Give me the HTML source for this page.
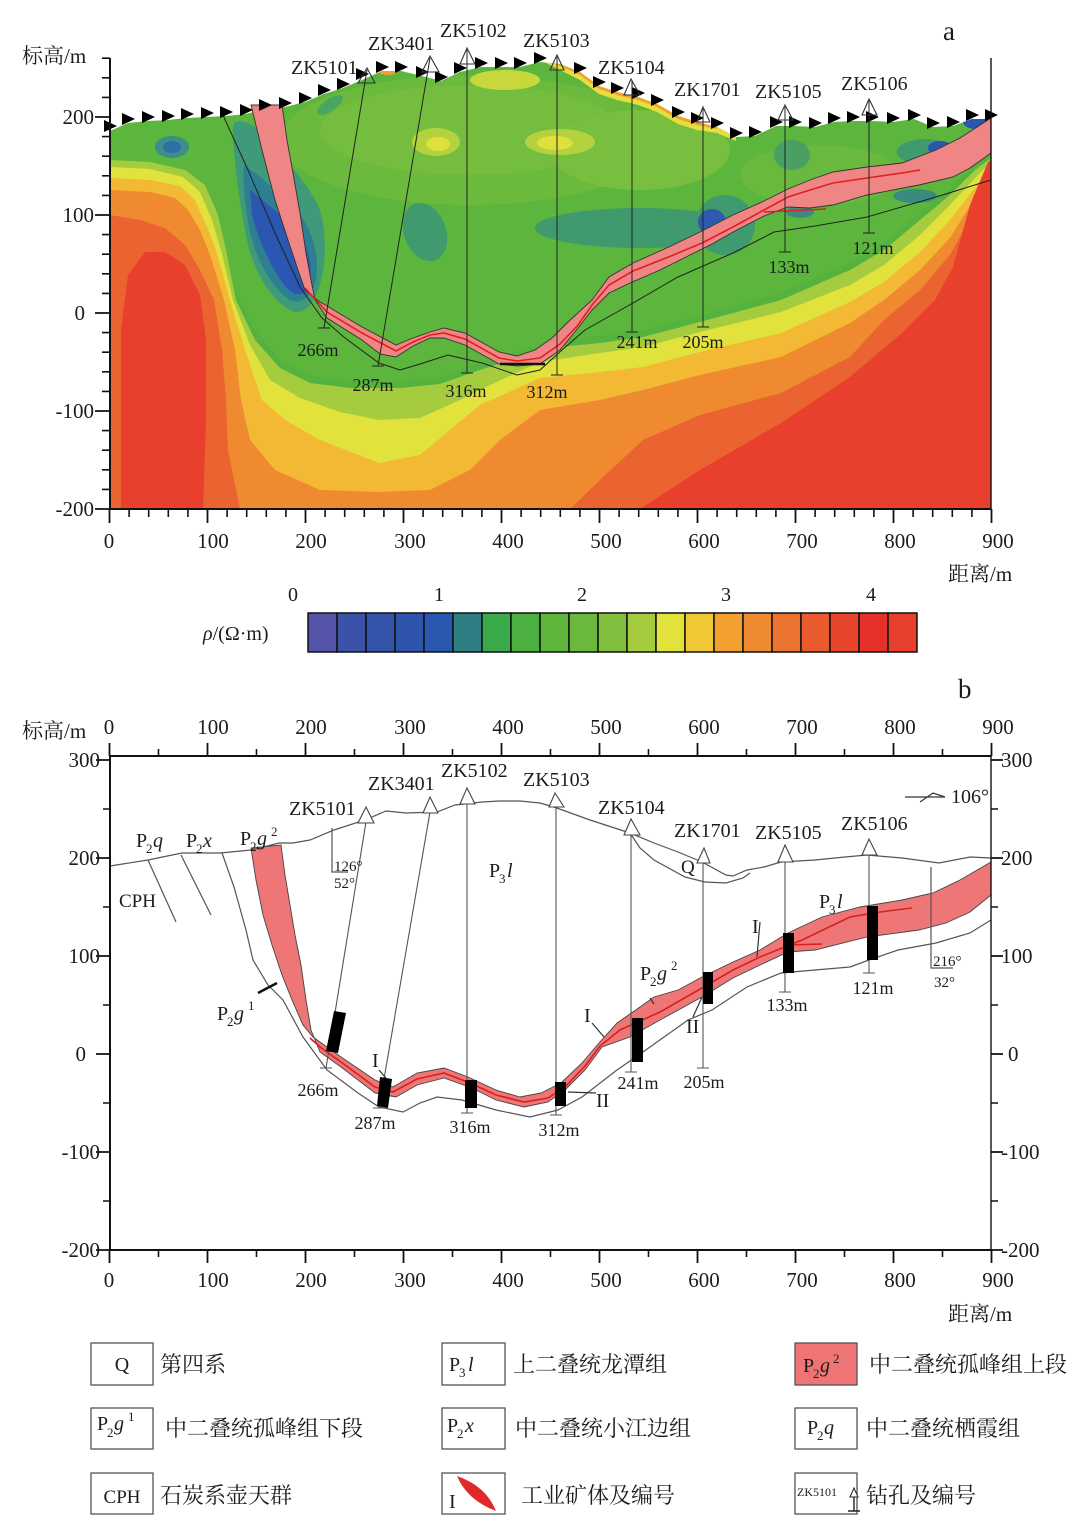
<!DOCTYPE html>
<html><head><meta charset="utf-8"><style>
html,body{margin:0;padding:0;background:#fff;}
svg{display:block;}
text{font-family:"Liberation Serif","Noto Serif CJK SC",serif;fill:#1c1c1c;}
</style></head><body>
<svg width="1080" height="1522" viewBox="0 0 1080 1522" xmlns="http://www.w3.org/2000/svg">
<rect width="1080" height="1522" fill="#fff"/>
<defs>
<clipPath id="surf"><path d="M110,131 L128,123 L148,121 L168,120 L187,118 L207,117 L226,116 L246,114 L265,109 L285,107 L305,102 L324,94 L343,88 L362,80 L382,71 L401,71 L422,76 L441,81 L460,72 L481,67 L501,67 L520,67 L540,62 L560,64 L580,72 L599,86 L617,92 L638,97 L657,104 L678,116 L697,122 L717,127 L736,137 L755,136 L776,126 L795,126 L815,127 L834,122 L853,121 L872,121 L893,122 L914,119 L933,127 L953,126 L972,119 L991,119 L991,509 L110,509 Z"/></clipPath>
</defs>

<!-- ================= PANEL A ================= -->
<g clip-path="url(#surf)">
<rect x="110" y="55" width="881" height="455" fill="#5cb53c"/>
<ellipse cx="470" cy="140" rx="190" ry="65" fill="#6cba3d"/>
<ellipse cx="470" cy="130" rx="150" ry="45" fill="#74bd3e"/>
<ellipse cx="640" cy="150" rx="90" ry="40" fill="#78bf3f"/>
<ellipse cx="820" cy="175" rx="80" ry="30" fill="#68b93e"/>
<ellipse cx="436" cy="142" rx="24" ry="14" fill="#b4d23e"/>
<ellipse cx="438" cy="144" rx="12" ry="7" fill="#e0e03c"/>
<ellipse cx="560" cy="142" rx="35" ry="13" fill="#b4d23e"/>
<ellipse cx="555" cy="143" rx="18" ry="7" fill="#dfe03c"/>
<ellipse cx="505" cy="80" rx="35" ry="10" fill="#c8d83c"/>
<path d="M540,60 L580,70 L599,84 L617,90 L638,95 L657,102 L678,114 L697,120 L717,125 L736,135 L736,141 L717,133 L697,130 L678,124 L657,112 L638,105 L617,100 L599,94 L580,80 L560,70 Z" fill="#e6de3c"/>
<path d="M545,60 L580,70 L599,84 L617,90 L638,95 L657,102 L678,114 L697,120 L717,125 L717,129 L697,125 L678,119 L657,107 L638,100 L617,95 L599,89 L580,75 L560,66 Z" fill="#f0a030"/>
<ellipse cx="388" cy="72" rx="9" ry="3" fill="#f0a030"/>
<path d="M236,290 L255,330 L280,360 L310,376 L350,381 L400,381 L440,377 L480,363 L520,350 L560,340 L600,336 L643,330 L700,315 L781,293 L850,263 L884,243 L920,213 L950,188 L991,150 L991,509 L110,509 Z" fill="#54b23e"/>

<path d="M110,160 L150,162 L185,170 L205,185 L218,215 L226,250 L236,300 L255,340 L280,368 L310,383 L350,388 L400,388 L440,384 L480,370 L520,357 L560,347 L600,343 L643,337 L700,322 L781,300 L850,270 L884,250 L920,220 L950,195 L975,170 L991,158 L991,509 L110,509 Z" fill="#a5cc3e"/>
<path d="M110,167 L150,169 L183,177 L200,192 L212,220 L221,250 L233,300 L250,345 L270,380 L300,398 L340,412 L379,420 L420,418 L460,400 L490,385 L540,362 L600,353 L643,347 L700,332 L781,312 L850,285 L884,265 L920,235 L950,205 L975,178 L991,162 L991,509 L110,509 Z" fill="#e2e23c"/>
<path d="M110,178 L150,180 L180,186 L195,200 L206,225 L216,250 L230,300 L245,350 L262,400 L285,420 L320,440 L379,463 L420,455 L450,430 L480,405 L540,378 L600,372 L643,367 L700,352 L781,333 L850,302 L884,282 L920,252 L950,220 L975,188 L991,166 L991,509 L110,509 Z" fill="#f3b834"/>
<path d="M110,190 L150,192 L175,198 L188,210 L200,230 L210,255 L224,300 L235,350 L241,400 L250,440 L275,470 L320,490 L379,492 L430,490 L470,470 L500,440 L540,410 L600,400 L643,390 L700,375 L781,357 L850,323 L884,300 L920,270 L950,238 L975,198 L991,170 L991,509 L110,509 Z" fill="#ef8a30"/>
<path d="M110,215 L140,220 L165,228 L185,245 L200,270 L214,300 L222,350 L226,400 L228,450 L240,509 L110,509 Z" fill="#ea6330"/>
<path d="M570,509 L600,480 L643,440 L700,415 L781,393 L850,357 L884,320 L920,290 L950,255 L975,210 L991,175 L991,509 Z" fill="#ea6330"/>
<path d="M121,509 L121,330 L128,275 L145,252 L165,252 L185,265 L200,295 L206,340 L206,420 L203,509 Z" fill="#e8402c"/>
<path d="M640,509 L700,470 L781,423 L850,377 L902,333 L935,300 L953,267 L970,205 L988,162 L991,160 L991,509 Z" fill="#e8402c"/>

<ellipse cx="172" cy="147" rx="17" ry="11" fill="#3a8f88"/>
<ellipse cx="172" cy="147" rx="9" ry="6" fill="#2f6fa8"/>
<path d="M234,123 C242,118 258,125 268,140 C285,160 305,180 318,205 C328,230 326,270 318,290 C312,308 300,316 290,310 C270,298 256,275 248,245 C242,215 236,180 234,150 C233,138 232,128 234,123 Z" fill="#3e9a78"/>
<path d="M244,165 C256,172 275,190 295,208 C312,228 320,255 316,280 C312,298 300,305 290,300 C272,288 260,265 252,240 C246,215 242,185 244,165 Z" fill="#2f7f92"/>
<path d="M250,190 C262,200 282,215 298,232 C310,250 314,272 308,290 C300,298 290,294 282,282 C268,262 258,238 252,215 Z" fill="#2b57b2"/>
<ellipse cx="330" cy="105" rx="15" ry="6" fill="#49a560" transform="rotate(-35 330 105)"/>
<ellipse cx="425" cy="232" rx="21" ry="30" fill="#3f9a6e" transform="rotate(-20 425 232)"/>
<ellipse cx="640" cy="228" rx="105" ry="20" fill="#3f9a6e"/>
<ellipse cx="725" cy="225" rx="30" ry="30" fill="#3f9a6e"/>
<ellipse cx="712" cy="222" rx="14" ry="13" fill="#2e5ab0"/>
<ellipse cx="792" cy="155" rx="18" ry="15" fill="#4aa064"/>
<ellipse cx="925" cy="152" rx="28" ry="13" fill="#3f9a6e"/>
<ellipse cx="940" cy="148" rx="12" ry="7" fill="#2c55b0"/>
<ellipse cx="976" cy="122" rx="13" ry="7" fill="#2c55b0"/>
<ellipse cx="915" cy="196" rx="22" ry="7" fill="#3a8a80"/>
<ellipse cx="800" cy="212" rx="14" ry="6" fill="#3a8a80"/>
</g>

<!-- ore body a -->
<path d="M251,105 L262,150 L275,200 L288,240 L298,270 L305,290 L320,302 L327,306 L362,327 L396,345 L413,338 L430,332 L444,328 L465,333 L499,352 L517,356 L535,350 L552,338 L568,322 L592,300 L609,277 L633,263 L671,246 L702,231 L733,215 L764,201 L788,189 L810,180 L833,172 L867,167 L902,163 L936,150 L960,138 L991,118 L991,153 L970,168 L953,177 L919,185 L867,195 L833,205 L810,208 L788,207 L764,216 L733,232 L712,244 L690,255 L660,270 L630,283 L609,293 L592,310 L578,328 L560,350 L540,364 L517,366 L499,364 L465,345 L444,338 L430,338 L413,346 L396,357 L380,354 L362,340 L327,318 L315,300 L311,280 L306,253 L300,213 L293,173 L287,140 L282,105 Z" fill="#f08585" stroke="#333" stroke-width="0.9"/>
<path d="M305,288 L327,312 L362,333 L396,351 L413,342 L430,335 L444,333 L465,339 L499,358 L517,361 L540,358 L560,344 L578,325 L592,305 L609,285 L633,271 L671,256 L702,243 L733,227 L764,210 L788,197 L810,190 L833,183 L867,178 L902,173 L920,170" fill="none" stroke="#e02020" stroke-width="1.6"/>
<path d="M764,212 L826,209" fill="none" stroke="#e02020" stroke-width="1.4"/>
<path d="M500,364 L545,364" stroke="#111" stroke-width="2.5"/>
<path d="M222,113 L248,170 L275,233 L300,287 L322,318 L345,338 L379,363 L400,370 L420,364 L448,355 L482,363 L517,375 L540,370 L562,350 L585,330 L626,307 L678,277 L733,253 L774,232 L815,226 L867,217 L936,197 L991,180" fill="none" stroke="#222" stroke-width="1"/>

<!-- surface triangles -->
<path fill="#000" d="M104,120L117,126L104,132Z M122,113L135,119L122,125Z M142,111L155,117L142,123Z M162,110L175,116L162,122Z M181,108L194,114L181,120Z M201,107L214,113L201,119Z M220,106L233,112L220,118Z M240,104L253,110L240,116Z M259,99L272,105L259,111Z M279,97L292,103L279,109Z M299,92L312,98L299,104Z M318,84L331,90L318,96Z M337,78L350,84L337,90Z M356,68L369,74L356,80Z M376,61L389,67L376,73Z M395,61L408,67L395,73Z M416,66L429,72L416,78Z M435,71L448,77L435,83Z M454,62L467,68L454,74Z M475,57L488,63L475,69Z M495,57L508,63L495,69Z M514,57L527,63L514,69Z M534,52L547,58L534,64Z M574,62L587,68L574,74Z M593,76L606,82L593,88Z M611,82L624,88L611,94Z M632,87L645,93L632,99Z M651,94L664,100L651,106Z M672,106L685,112L672,118Z M691,112L704,118L691,124Z M711,117L724,123L711,129Z M730,127L743,133L730,139Z M749,126L762,132L749,138Z M770,116L783,122L770,128Z M789,116L802,122L789,128Z M809,117L822,123L809,129Z M828,112L841,118L828,124Z M847,111L860,117L847,123Z M866,111L879,117L866,123Z M887,112L900,118L887,124Z M908,109L921,115L908,121Z M927,117L940,123L927,129Z M947,116L960,122L947,128Z M966,109L979,115L966,121Z M985,109L998,115L985,121Z"/>

<!-- boreholes a -->
<g fill="none" stroke="#222" stroke-width="1">
<path d="M367,70 L324,328 M318,328H330"/>
<path d="M430,58 L378,366 M372,366H384"/>
<path d="M467,50 V373 M461,373H473"/>
<path d="M557,57 V375 M551,375H563"/>
<path d="M632,80 V332 M626,332H638"/>
<path d="M703,109 V327 M697,327H709"/>
<path d="M785,107 V252 M779,252H791"/>
<path d="M869,100 V233 M863,233H875"/>
</g>
<g fill="none" stroke="#333" stroke-width="1.1">
<path d="M358,83 L367,68 L375,83 Z"/>
<path d="M422,72 L430,56 L439,72 Z"/>
<path d="M460,64 L467,48 L475,64 Z"/>
<path d="M550,70 L557,55 L564,70 Z"/>
<path d="M624,95 L631,79 L640,95 Z"/>
<path d="M697,122 L703,107 L710,122 Z"/>
<path d="M778,120 L785,105 L793,120 Z"/>
<path d="M862,115 L869,99 L877,115 Z"/>
</g>
<g font-size="20">
<text x="291" y="74">ZK5101</text>
<text x="368" y="50">ZK3401</text>
<text x="440" y="37">ZK5102</text>
<text x="523" y="47">ZK5103</text>
<text x="598" y="74">ZK5104</text>
<text x="674" y="96">ZK1701</text>
<text x="755" y="98">ZK5105</text>
<text x="841" y="90">ZK5106</text>
</g>
<g font-size="18" text-anchor="middle">
<text x="318" y="356">266m</text>
<text x="373" y="391">287m</text>
<text x="466" y="397">316m</text>
<text x="547" y="398">312m</text>
<text x="637" y="348">241m</text>
<text x="703" y="348">205m</text>
<text x="789" y="273">133m</text>
<text x="873" y="254">121m</text>
</g>

<!-- axes a -->
<g stroke="#111" fill="none">
<path d="M110,58 V509 H991" stroke-width="2"/>
<path d="M991,58 V509" stroke-width="1.4"/>
<path stroke-width="1.6" d="M102,489.4H110M102,469.8H110M102,450.2H110M102,430.6H110M102,391.4H110M102,371.8H110M102,352.2H110M102,332.6H110M102,293.4H110M102,273.8H110M102,254.2H110M102,234.6H110M102,195.4H110M102,175.8H110M102,156.2H110M102,136.6H110M102,97.4H110M102,77.8H110M102,58.2H110"/>
<path stroke-width="1.8" d="M95,509H110M95,411H110M95,313H110M95,215H110M95,117H110"/>
<path stroke-width="1.6" d="M129.1,509V517M148.7,509V517M168.3,509V517M187.9,509V517M227.1,509V517M246.7,509V517M266.3,509V517M285.9,509V517M325.1,509V517M344.7,509V517M364.3,509V517M383.9,509V517M423.1,509V517M442.7,509V517M462.3,509V517M481.9,509V517M521.1,509V517M540.7,509V517M560.3,509V517M579.9,509V517M619.1,509V517M638.7,509V517M658.3,509V517M677.9,509V517M717.1,509V517M736.7,509V517M756.3,509V517M775.9,509V517M815.1,509V517M834.7,509V517M854.3,509V517M873.9,509V517M913.1,509V517M932.7,509V517M952.3,509V517M971.9,509V517"/>
<path stroke-width="1.8" d="M109.5,509V523M207.5,509V523M305.5,509V523M403.5,509V523M501.5,509V523M599.5,509V523M697.5,509V523M795.5,509V523M893.5,509V523M991.5,509V523"/>
</g>
<g font-size="21" text-anchor="end">
<text x="94" y="124">200</text>
<text x="94" y="222">100</text>
<text x="85" y="320">0</text>
<text x="94" y="418">-100</text>
<text x="94" y="516">-200</text>
</g>
<g font-size="21" text-anchor="middle">
<text x="109" y="548">0</text>
<text x="213" y="548">100</text>
<text x="311" y="548">200</text>
<text x="410" y="548">300</text>
<text x="508" y="548">400</text>
<text x="606" y="548">500</text>
<text x="704" y="548">600</text>
<text x="802" y="548">700</text>
<text x="900" y="548">800</text>
<text x="998" y="548">900</text>
</g>
<text x="22" y="63" font-size="21">标高/m</text>
<text x="943" y="40" font-size="27">a</text>
<text x="948" y="581" font-size="21">距离/m</text>

<!-- colorbar -->
<g stroke="#111" stroke-width="1.5">
<rect x="308" y="613" width="29" height="39" fill="#5454a8"/>
<rect x="337" y="613" width="29" height="39" fill="#3a52a8"/>
<rect x="366" y="613" width="29" height="39" fill="#3454aa"/>
<rect x="395" y="613" width="29" height="39" fill="#2f54ac"/>
<rect x="424" y="613" width="29" height="39" fill="#2a58b0"/>
<rect x="453" y="613" width="29" height="39" fill="#2e7e84"/>
<rect x="482" y="613" width="29" height="39" fill="#3aab4a"/>
<rect x="511" y="613" width="29" height="39" fill="#4cb040"/>
<rect x="540" y="613" width="29" height="39" fill="#5db53c"/>
<rect x="569" y="613" width="29" height="39" fill="#6ab93c"/>
<rect x="598" y="613" width="29" height="39" fill="#80c03e"/>
<rect x="627" y="613" width="29" height="39" fill="#a5cc3e"/>
<rect x="656" y="613" width="29" height="39" fill="#e2e23c"/>
<rect x="685" y="613" width="29" height="39" fill="#f0c836"/>
<rect x="714" y="613" width="29" height="39" fill="#f2a030"/>
<rect x="743" y="613" width="29" height="39" fill="#ef8a30"/>
<rect x="772" y="613" width="29" height="39" fill="#ec7230"/>
<rect x="801" y="613" width="29" height="39" fill="#e95a2e"/>
<rect x="830" y="613" width="29" height="39" fill="#e8462c"/>
<rect x="859" y="613" width="29" height="39" fill="#e6302a"/>
<rect x="888" y="613" width="29" height="39" fill="#e8402c"/>
</g>
<g font-size="20" text-anchor="middle">
<text x="293" y="601">0</text>
<text x="439" y="601">1</text>
<text x="582" y="601">2</text>
<text x="726" y="601">3</text>
<text x="871" y="601">4</text>
</g>
<text x="203" y="640" font-size="20"><tspan font-style="italic">ρ</tspan>/(Ω·m)</text>

<!-- ================= PANEL B ================= -->
<path d="M251,848 L256,880 L263,915 L272,945 L282,975 L292,1000 L303,1025 L313,1037 L341,1057 L375,1080 L393,1087 L417,1073 L444,1068 L468,1077 L496,1090 L520,1097 L541,1093 L561,1083 L582,1063 L599,1043 L617,1023 L640,1007 L654,997 L678,990 L702,977 L733,962 L760,950 L788,933 L822,917 L860,907 L902,900 L933,893 L960,880 L991,862 L991,895 L970,912 L946,923 L919,930 L867,937 L815,950 L788,952 L760,965 L733,978 L702,997 L660,1020 L630,1037 L602,1047 L585,1070 L565,1090 L548,1102 L524,1107 L496,1100 L472,1088 L444,1078 L417,1085 L396,1097 L375,1093 L341,1067 L320,1052 L311,1030 L306,1000 L301,965 L295,935 L290,905 L285,875 L281,845 Z" fill="#ef7676" stroke="#444" stroke-width="0.9"/>
<path d="M310,1038 L320,1047 L341,1062 L375,1087 L393,1092 L417,1079 L444,1073 L470,1083 L496,1095 L524,1102 L548,1098 L565,1087 L585,1066 L600,1046 L620,1030 L660,1012 L702,988 L733,970 L760,957 L802,940 L850,917 L880,912 L912,908" fill="none" stroke="#d82020" stroke-width="1.6"/>
<path d="M788,945 L822,944" stroke="#d82020" stroke-width="1.4"/>

<g fill="none" stroke="#555" stroke-width="1.2">
<path d="M110,866 L148,860 L182,853 L220,853 L251,850 L279,843 L293,843 L310,840 L334,830 L365,820 L386,811 L406,813 L437,812 L455,805 L482,802 L499,801 L520,801 L540,803 L554,807 L590,820 L630,833 L654,843 L678,852 L702,862 L726,875 L733,876 L747,870 L764,867 L781,862 L815,860 L845,857 L867,855 L902,858 L939,863 L970,857 L991,858"/>
<path d="M630,833 L640,848 L654,860 L685,877 L705,882 L726,883 L743,878 L750,873"/>
<path d="M148,860 L176,922 M181,855 L211,915"/>
<path d="M222,853 L234,887 L246,930 L253,960 L268,985 L283,1000 L303,1037 L327,1070 L358,1093 L379,1107 L403,1112 L420,1103 L437,1097 L462,1100 L496,1110 L530,1117 L558,1110 L582,1097 L617,1070 L643,1052 L688,1020 L712,1010 L747,987 L781,973 L815,970 L850,967 L869,960 L898,950 L936,943 L970,933 L991,920"/>
<path d="M332,828 V872 H348"/>
<path d="M931,867 V968 H953"/>
</g>
<g fill="none" stroke="#555" stroke-width="1.1">
<path d="M366,822 L326,1068 M320,1068H332"/>
<path d="M430,812 L379,1108 M373,1108H385"/>
<path d="M467,803 V1113 M461,1113H473"/>
<path d="M556,807 V1115 M550,1115H562"/>
<path d="M631,834 V1072 M625,1072H637"/>
<path d="M703,862 V1068 M697,1068H709"/>
<path d="M785,861 V992 M779,992H791"/>
<path d="M869,854 V973 M863,973H875"/>
</g>
<g fill="#fff" stroke="#444" stroke-width="1.1">
<path d="M358,823 L366,807 L374,823 Z"/>
<path d="M423,813 L430,797 L438,813 Z"/>
<path d="M460,804 L467,788 L475,804 Z"/>
<path d="M549,807 L555,793 L564,807 Z"/>
<path d="M624,835 L631,819 L640,835 Z"/>
<path d="M697,863 L704,848 L710,863 Z"/>
<path d="M778,862 L785,845 L793,862 Z"/>
<path d="M862,855 L869,839 L877,855 Z"/>
</g>
<g fill="#000">
<path d="M334,1011 L346,1013 L338,1053 L326,1051 Z"/>
<path d="M380,1077 L392,1079 L388,1108 L377,1106 Z"/>
<rect x="465" y="1080" width="12" height="28"/>
<rect x="555" y="1082" width="11" height="24"/>
<rect x="632" y="1018" width="11" height="44"/>
<rect x="703" y="972" width="10" height="32"/>
<rect x="783" y="933" width="11" height="40"/>
<rect x="867" y="906" width="11" height="54"/>
</g>
<g fill="none" stroke="#333" stroke-width="1.2">
<path d="M379,1070 L386,1078"/>
<path d="M592,1023 L604,1037"/>
<path d="M568,1092 L596,1093"/>
<path d="M693,1017 L702,997"/>
<path d="M650,998 L654,1004"/>
<path d="M760,922 L757,957"/>
<path d="M905,797 H945 M920,802 L933,793 L945,797"/>
</g>
<path d="M258,993 L277,983" stroke="#111" stroke-width="2.5"/>

<g font-size="20">
<text x="289" y="815">ZK5101</text>
<text x="368" y="790">ZK3401</text>
<text x="441" y="777">ZK5102</text>
<text x="523" y="786">ZK5103</text>
<text x="598" y="814">ZK5104</text>
<text x="674" y="837">ZK1701</text>
<text x="755" y="839">ZK5105</text>
<text x="841" y="830">ZK5106</text>
</g>
<g font-size="18" text-anchor="middle">
<text x="318" y="1096">266m</text>
<text x="375" y="1129">287m</text>
<text x="470" y="1133">316m</text>
<text x="559" y="1136">312m</text>
<text x="638" y="1089">241m</text>
<text x="704" y="1088">205m</text>
<text x="787" y="1011">133m</text>
<text x="873" y="994">121m</text>
</g>
<g font-size="15">
<text x="334" y="871">126°</text>
<text x="334" y="888">52°</text>
<text x="933" y="966">216°</text>
<text x="934" y="987">32°</text>
</g>
<text x="951" y="803" font-size="20">106°</text>

<g font-size="20">
<text x="136" y="847">P</text><text x="146" y="853" font-size="13">2</text><text x="153" y="847" font-style="italic">q</text>
<text x="186" y="847">P</text><text x="196" y="853" font-size="13">2</text><text x="203" y="847" font-style="italic">x</text>
<text x="240" y="845">P</text><text x="250" y="851" font-size="13">2</text><text x="257" y="845" font-style="italic">g</text><text x="271" y="836" font-size="13">2</text>
<text x="119" y="907" font-size="19">CPH</text>
<text x="489" y="877">P</text><text x="499" y="883" font-size="13">3</text><text x="507" y="877" font-style="italic">l</text>
<text x="681" y="873" font-size="19">Q</text>
<text x="819" y="908">P</text><text x="829" y="914" font-size="13">3</text><text x="837" y="908" font-style="italic">l</text>
<text x="640" y="980">P</text><text x="650" y="986" font-size="13">2</text><text x="657" y="980" font-style="italic">g</text><text x="671" y="970" font-size="13">2</text>
<text x="217" y="1020">P</text><text x="227" y="1026" font-size="13">2</text><text x="234" y="1020" font-style="italic">g</text><text x="248" y="1010" font-size="13">1</text>
<text x="372" y="1067">I</text>
<text x="584" y="1022">I</text>
<text x="752" y="933">I</text>
<text x="596" y="1107">II</text>
<text x="686" y="1033">II</text>
</g>

<g stroke="#111" fill="none">
<path d="M110,756 V1250 H991 M110,756 H991" stroke-width="2"/>
<path d="M991,756 V1250" stroke-width="1.4"/>
<path stroke-width="1.8" d="M96,760H110M96,858H110M96,956H110M96,1054H110M96,1152H110M96,1250H110"/>
<path stroke-width="1.6" d="M103,809H110M103,907H110M103,1005H110M103,1103H110M103,1201H110"/>
<path stroke-width="1.8" d="M991,760H1003M991,858H1003M991,956H1003M991,1054H1003M991,1152H1003M991,1250H1003"/>
<path stroke-width="1.6" d="M991,809H998M991,907H998M991,1005H998M991,1103H998M991,1201H998"/>
<path stroke-width="1.8" d="M109.5,756V743M207.5,756V743M305.5,756V743M403.5,756V743M501.5,756V743M599.5,756V743M697.5,756V743M795.5,756V743M893.5,756V743M991.5,756V743"/>
<path stroke-width="1.6" d="M158.5,756V749M256.5,756V749M354.5,756V749M452.5,756V749M550.5,756V749M648.5,756V749M746.5,756V749M844.5,756V749M942.5,756V749"/>
<path stroke-width="1.8" d="M109.5,1250V1263M207.5,1250V1263M305.5,1250V1263M403.5,1250V1263M501.5,1250V1263M599.5,1250V1263M697.5,1250V1263M795.5,1250V1263M893.5,1250V1263M991.5,1250V1263"/>
<path stroke-width="1.6" d="M158.5,1250V1257M256.5,1250V1257M354.5,1250V1257M452.5,1250V1257M550.5,1250V1257M648.5,1250V1257M746.5,1250V1257M844.5,1250V1257M942.5,1250V1257"/>
</g>
<g font-size="21" text-anchor="end">
<text x="100" y="767">300</text>
<text x="100" y="865">200</text>
<text x="100" y="963">100</text>
<text x="86" y="1061">0</text>
<text x="100" y="1159">-100</text>
<text x="100" y="1257">-200</text>
</g>
<g font-size="21">
<text x="1001" y="767">300</text>
<text x="1001" y="865">200</text>
<text x="1001" y="963">100</text>
<text x="1008" y="1061">0</text>
<text x="1001" y="1159">-100</text>
<text x="1001" y="1257">-200</text>
</g>
<g font-size="21" text-anchor="middle">
<text x="109" y="734">0</text>
<text x="213" y="734">100</text>
<text x="311" y="734">200</text>
<text x="410" y="734">300</text>
<text x="508" y="734">400</text>
<text x="606" y="734">500</text>
<text x="704" y="734">600</text>
<text x="802" y="734">700</text>
<text x="900" y="734">800</text>
<text x="998" y="734">900</text>
<text x="109" y="1287">0</text>
<text x="213" y="1287">100</text>
<text x="311" y="1287">200</text>
<text x="410" y="1287">300</text>
<text x="508" y="1287">400</text>
<text x="606" y="1287">500</text>
<text x="704" y="1287">600</text>
<text x="802" y="1287">700</text>
<text x="900" y="1287">800</text>
<text x="998" y="1287">900</text>
</g>
<text x="22" y="738" font-size="21">标高/m</text>
<text x="958" y="698" font-size="27">b</text>
<text x="948" y="1321" font-size="21">距离/m</text>

<!-- ================= LEGEND ================= -->
<g fill="none" stroke="#555" stroke-width="1.3">
<rect x="91" y="1343" width="62" height="42"/>
<rect x="91" y="1408" width="62" height="41"/>
<rect x="91" y="1473" width="62" height="41"/>
<rect x="442" y="1343" width="63" height="42"/>
<rect x="442" y="1408" width="63" height="41"/>
<rect x="442" y="1473" width="63" height="41"/>
<rect x="795" y="1343" width="62" height="42" fill="#ef7474"/>
<rect x="795" y="1408" width="62" height="41"/>
<rect x="795" y="1473" width="62" height="41"/>
</g>
<g font-size="20">
<text x="122" y="1371" text-anchor="middle">Q</text>
<text x="97" y="1430">P</text><text x="107" y="1437" font-size="13">2</text><text x="114" y="1430" font-style="italic">g</text><text x="128" y="1421" font-size="13">1</text>
<text x="122" y="1503" text-anchor="middle" font-size="19">CPH</text>
<text x="449" y="1371">P</text><text x="459" y="1377" font-size="13">3</text><text x="468" y="1371" font-style="italic">l</text>
<text x="447" y="1432">P</text><text x="457" y="1438" font-size="13">2</text><text x="465" y="1432" font-style="italic">x</text>
<text x="449" y="1508">I</text>
<text x="803" y="1372">P</text><text x="813" y="1378" font-size="13">2</text><text x="820" y="1372" font-style="italic">g</text><text x="833" y="1363" font-size="13">2</text>
<text x="807" y="1434">P</text><text x="817" y="1440" font-size="13">2</text><text x="824" y="1434" font-style="italic">q</text>
</g>
<path d="M457,1476 Q486,1486 496,1511 Q467,1500 457,1476 Z" fill="#e02a2a"/>
<text x="797" y="1496" font-size="12">ZK5101</text>
<path d="M850,1497 L854,1488 L858,1497 Z" fill="#fff" stroke="#222" stroke-width="1"/>
<path d="M854,1497 V1511 M848,1511 H860" stroke="#222" stroke-width="1.4"/>
<g font-size="22">
<text x="160" y="1372">第四系</text>
<text x="165" y="1436">中二叠统孤峰组下段</text>
<text x="160" y="1503">石炭系壶天群</text>
<text x="513" y="1372">上二叠统龙潭组</text>
<text x="515" y="1436">中二叠统小江边组</text>
<text x="521" y="1503">工业矿体及编号</text>
<text x="869" y="1372">中二叠统孤峰组上段</text>
<text x="866" y="1436">中二叠统栖霞组</text>
<text x="866" y="1503">钻孔及编号</text>
</g>
</svg>
</body></html>
